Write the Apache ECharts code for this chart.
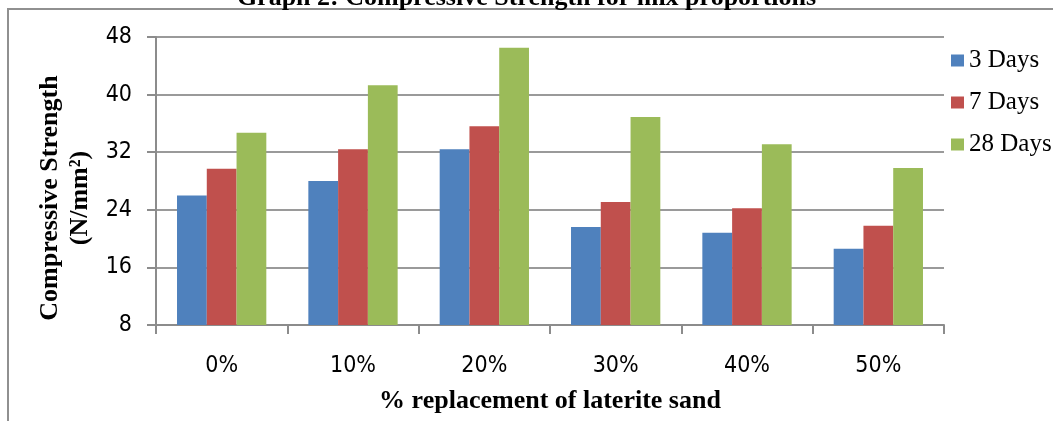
<!DOCTYPE html>
<html>
<head>
<meta charset="utf-8">
<style>
  html, body { margin: 0; padding: 0; background: #fff; }
  #main { width: 1053px; height: 421px; overflow: hidden; }
</style>
<script src="https://cdn.jsdelivr.net/npm/echarts@6/dist/echarts.min.js"></script>
</head>
<body>
<div id="main"></div>
<script>
  var categories = ['0%', '10%', '20%', '30%', '40%', '50%'];
  var days3 = [26.0, 28.0, 32.4, 21.6, 20.8, 18.6];
  var days7 = [29.7, 32.4, 35.6, 25.1, 24.2, 21.8];
  var days28 = [34.7, 41.3, 46.5, 36.9, 33.1, 29.8];
  var yTicks = [8, 16, 24, 32, 40, 48];

  var serif = "'Liberation Serif', 'DejaVu Serif', serif";
  var narrow = "'Liberation Sans Narrow', 'DejaVu Sans Condensed', 'Liberation Sans', sans-serif";
  var gray = '#8c8c8c';

  var myChart = echarts.init(document.getElementById('main'));

  var option = {
    animation: false,
    title: {
      text: 'Graph 2: Compressive Strength for mix proportions',
      left: 'center',
      top: -20,
      textStyle: { fontFamily: serif, fontWeight: 'bold', fontSize: 26, color: '#000' }
    },
    legend: {
      orient: 'vertical',
      left: 946,
      top: 43,
      itemWidth: 13,
      itemHeight: 12,
      itemGap: 17,
      icon: 'rect',
      textStyle: { fontFamily: serif, fontSize: 25, color: '#000' },
      data: ['3 Days', '7 Days', '28 Days']
    },
    grid: {
      left: 156,
      right: 109,
      top: 37,
      bottom: 96,
      containLabel: false
    },
    graphic: [
      {
        type: 'rect',
        shape: { x: 8, y: 9, width: 1200, height: 600 },
        style: { fill: 'none', stroke: '#909090', lineWidth: 2 },
        silent: true
      },
      {
        type: 'text',
        x: 65,
        y: 198,
        rotation: Math.PI / 2,
        style: {
          text: 'Compressive Strength\n(N/mm²)',
          fontFamily: serif,
          fontWeight: 'bold',
          fontSize: 26,
          lineHeight: 30,
          align: 'center',
          verticalAlign: 'middle',
          fill: '#000'
        }
      }
    ],
    xAxis: {
      type: 'category',
      data: categories,
      name: '% replacement of laterite sand',
      nameLocation: 'middle',
      nameGap: 63,
      nameTextStyle: { fontFamily: serif, fontWeight: 'bold', fontSize: 26, color: '#000' },
      axisLine: { lineStyle: { color: gray, width: 2 } },
      axisTick: { show: true, length: 9, interval: 0, lineStyle: { color: gray, width: 2 } },
      axisLabel: { margin: 30, fontFamily: narrow, fontSize: 23, color: '#000' }
    },
    yAxis: {
      type: 'value',
      min: yTicks[0],
      max: yTicks[yTicks.length - 1],
      interval: 8,
      axisLine: { show: true, lineStyle: { color: gray, width: 2 } },
      axisTick: { show: true, length: 9, lineStyle: { color: gray, width: 2 } },
      axisLabel: { margin: 24, fontFamily: narrow, fontSize: 23, color: '#000' },
      splitLine: { lineStyle: { color: '#9a9a9a', width: 2 } }
    },
    series: [
      { name: '3 Days', type: 'bar', data: days3, barGap: '0%', barCategoryGap: '32%', itemStyle: { color: '#4F81BD' } },
      { name: '7 Days', type: 'bar', data: days7, barGap: '0%', barCategoryGap: '32%', itemStyle: { color: '#C0504D' } },
      { name: '28 Days', type: 'bar', data: days28, barGap: '0%', barCategoryGap: '32%', itemStyle: { color: '#9BBB59' } }
    ]
  };

  myChart.setOption(option);
</script>
</body>
</html>
